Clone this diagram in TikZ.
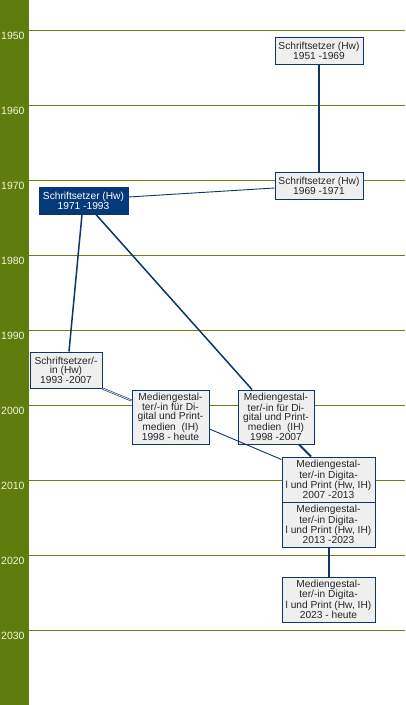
\documentclass[tikz,border=0pt]{standalone}
\usepackage{fontspec}
\setmainfont{Liberation Sans}
\definecolor{tlgreen}{HTML}{5F7D0E}
\definecolor{tlrule}{HTML}{7A7A12}
\definecolor{tlnavy}{HTML}{0C356A}
\definecolor{tldark}{HTML}{053A7A}
\definecolor{tlbox}{HTML}{EFEFEF}
\definecolor{tlyear}{HTML}{F2F2D8}

\tikzset{
  jobbox/.style={rectangle, draw=tlnavy, line width=1pt, fill=tlbox,
                 align=center, inner sep=0pt, text=black!85,
                 font=\fontsize{10.2}{9}\selectfont},
  jobnow/.style={jobbox, fill=tldark, text=white},
  linkthin/.style={draw=tlnavy, line width=0.9pt},
  linkmid/.style={draw=tlnavy, line width=1.5pt},
  linkthick/.style={draw=tlnavy, line width=2pt},
}

\begin{document}
\begin{tikzpicture}[x=1pt, y=-1pt]
  \useasboundingbox (0,0) rectangle (405,705);
  % year scale on the left
  \fill[tlgreen] (0,0) rectangle (29,705);
  \foreach \yr in {1950,1960,...,2030} {
    \draw[tlrule, line width=1pt] (29,{(\yr-1950)*7.5+30}) -- (405,{(\yr-1950)*7.5+30});
    \node[anchor=west, inner sep=0pt, text=tlyear, font=\fontsize{10.5}{10}\selectfont]
      (y\yr) at (1,{(\yr-1950)*7.5+36}) {\yr};
  }

  % job boxes
  \node[jobbox, minimum width=88pt, minimum height=27pt] (s51) at (319,50.5)
    {Schriftsetzer (Hw)\\1951 -1969};
  \node[jobbox, minimum width=88pt, minimum height=27pt] (s69) at (319,185.5)
    {Schriftsetzer (Hw)\\1969 -1971};
  \node[jobnow, minimum width=89pt, minimum height=27pt] (s71) at (83.5,200.5)
    {Schriftsetzer (Hw)\\1971 -1993};
  \node[jobbox, minimum width=72pt, minimum height=36pt] (s93) at (66,370)
    {Schriftsetzer/-\\in (Hw)\\1993 -2007};
  \node[jobbox, minimum width=77pt, minimum height=54pt] (m98h) at (170.5,417)
    {Mediengestal-\\ter/-in für Di-\\gital und Print-\\medien\ \ (IH)\\1998 - heute};
  \node[jobbox, minimum width=76pt, minimum height=54pt] (m98) at (276,417)
    {Mediengestal-\\ter/-in für Di-\\gital und Print-\\medien\ \ (IH)\\1998 -2007};
  \node[jobbox, minimum width=93pt, minimum height=45pt] (m07) at (328.5,479.5)
    {Mediengestal-\\ter/-in Digita-\\l und Print (Hw, IH)\\2007 -2013};
  \node[jobbox, minimum width=93pt, minimum height=45pt] (m13) at (328.5,524.5)
    {Mediengestal-\\ter/-in Digita-\\l und Print (Hw, IH)\\2013 -2023};
  \node[jobbox, minimum width=93pt, minimum height=45pt] (m23) at (328.5,599.5)
    {Mediengestal-\\ter/-in Digita-\\l und Print (Hw, IH)\\2023 - heute};

  % links
  \draw[linkthick] (s51.south) -- (s69.north);
  \draw[linkthin] ([yshift=-2.5pt]s69.west) -- ([yshift=3.5pt]s71.east);
  \draw[linkmid] ([xshift=-1.5pt]s71.south) -- ([xshift=3pt]s93.north);
  \draw[linkmid] ([xshift=12.5pt]s71.south) -- ([xshift=-24pt]m98.north);
  \draw[tlnavy, line width=0.6pt, double=tlbox, double distance=0.7pt]
    (s93.south east) -- ([yshift=-11pt]m98h.north west);
  \draw[linkthin] ([yshift=-12pt]m98h.east) -- ([yshift=-3pt]m07.north west);
  \draw[linkthick] ([xshift=23pt]m98.south) -- ([xshift=-17.5pt]m07.north);
  \draw[linkthick] (m13.south) -- (m23.north);
\end{tikzpicture}
\end{document}
